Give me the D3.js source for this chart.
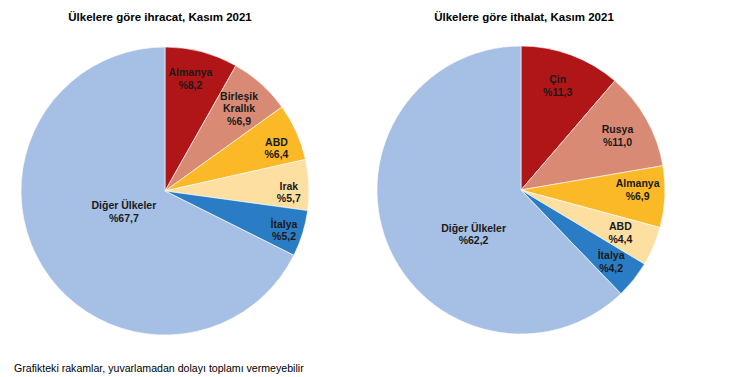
<!DOCTYPE html>
<html>
<head>
<meta charset="utf-8">
<script src="https://cdn.jsdelivr.net/npm/d3@7"></script>
<style>
  html, body { margin: 0; padding: 0; background: #fff; }
  svg { display: block; font-family: "Liberation Sans", Arial, sans-serif; }
</style>
</head>
<body>
<svg id="chart" width="730" height="377"></svg>
<script>
// ---- Data ----
const exportTitle = "Ülkelere göre ihracat, Kasım 2021";
const exportCountries = ["Almanya", "Birleşik Krallık", "ABD", "Irak", "İtalya", "Diğer Ülkeler"];
const exportShares = [8.2, 6.9, 6.4, 5.7, 5.2, 67.7];

const importTitle = "Ülkelere göre ithalat, Kasım 2021";
const importCountries = ["Çin", "Rusya", "Almanya", "ABD", "İtalya", "Diğer Ülkeler"];
const importShares = [11.3, 11.0, 6.9, 4.4, 4.2, 62.2];

const footnote = "Grafikteki rakamlar, yuvarlamadan dolayı toplamı vermeyebilir";

// ---- Styling / layout ----
const colors = ["#B01518", "#D98A74", "#FBB927", "#FDDFA2", "#2A7DC5", "#A6BFE4"];
const exportLabelLayout = [
  { r: 0.80, da: -2 }, { r: 0.77, da: 0 }, { r: 0.83, da: 3 },
  { r: 0.86, da: 3 }, { r: 0.87, da: 1 }, { r: 0.32, da: 5 }
];
const importLabelLayout = [
  { r: 0.77, da: -1 }, { r: 0.77, da: 0 }, { r: 0.81, da: -3 },
  { r: 0.75, da: 0 }, { r: 0.80, da: 0 }, { r: 0.45, da: -21 }
];
const lineBreaks = { "Birleşik Krallık": ["Birleşik", "Krallık"] };

const svg = d3.select("#chart");

function drawPie(cx, cy, radius, title, titleX, names, values, layout) {
  const g = svg.append("g").attr("transform", `translate(${cx},${cy})`);
  const pie = d3.pie().sort(null).value(d => d)(values);
  const arc = d3.arc().innerRadius(0).outerRadius(radius);

  g.selectAll("path.slice")
    .data(pie)
    .join("path")
    .attr("class", "slice")
    .attr("d", arc)
    .attr("fill", (d, i) => colors[i])
    .attr("stroke", "#ffffff")
    .attr("stroke-width", 0.6);

  const fmt = v => "%" + d3.format(".1f")(v).replace(".", ",");

  pie.forEach((d, i) => {
    const mid = (d.startAngle + d.endAngle) / 2 + layout[i].da * Math.PI / 180;
    const rr = radius * layout[i].r;
    const x = Math.sin(mid) * rr;
    const y = -Math.cos(mid) * rr;
    const lines = (lineBreaks[names[i]] || [names[i]]).concat([fmt(values[i])]);
    const lh = 12.5;
    const t = g.append("text")
      .attr("text-anchor", "middle")
      .attr("font-size", 10.5)
      .attr("font-weight", "bold")
      .attr("fill", "#1a1a1a");
    lines.forEach((ln, k) => {
      t.append("tspan")
        .attr("x", x)
        .attr("y", y + (k - (lines.length - 1) / 2) * lh + 4)
        .text(ln);
    });
  });

  svg.append("text")
    .attr("x", titleX)
    .attr("y", 21)
    .attr("text-anchor", "middle")
    .attr("font-size", 11.5)
    .attr("font-weight", "bold")
    .attr("fill", "#000")
    .text(title);
}

drawPie(165, 191, 144, exportTitle, 160, exportCountries, exportShares, exportLabelLayout);
drawPie(521, 190, 144, importTitle, 524, importCountries, importShares, importLabelLayout);

svg.append("text")
  .attr("x", 14)
  .attr("y", 372)
  .attr("font-size", 10.6)
  .attr("fill", "#000")
  .text(footnote);
</script>
</body>
</html>
